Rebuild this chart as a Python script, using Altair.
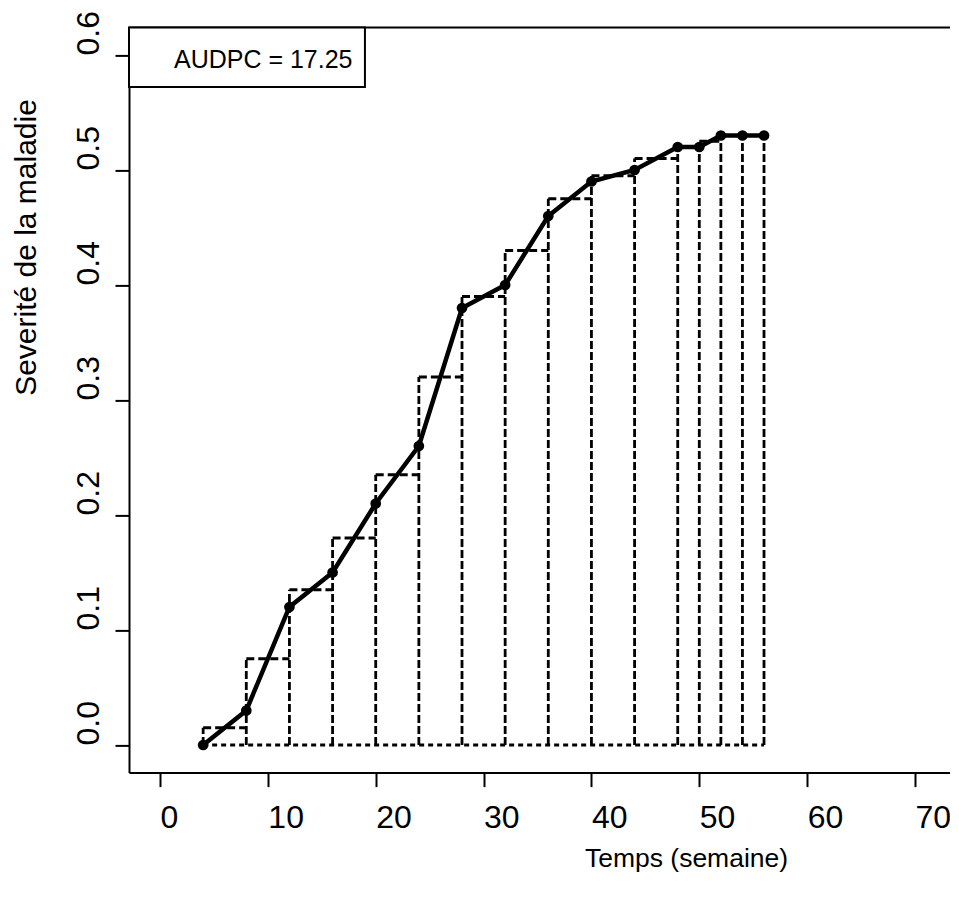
import altair as alt
import pandas as pd

# ---- data ----
temps = [4, 8, 12, 16, 20, 24, 28, 32, 36, 40, 44, 48, 50, 52, 54, 56]
severite = [0.00, 0.03, 0.12, 0.15, 0.21, 0.26, 0.38, 0.40, 0.46, 0.49,
            0.50, 0.52, 0.52, 0.53, 0.53, 0.53]
x_ticks = [0, 10, 20, 30, 40, 50, 60, 70]
y_ticks = [0.0, 0.1, 0.2, 0.3, 0.4, 0.5, 0.6]
legend_text = "AUDPC = 17.25"
x_title = "Temps (semaine)"
y_title = "Severité de la maladie"

# ---- layout ----
W = 821
H = 745.2
PX_PER_X = 10.786
X_MIN = -2.874
X_MAX = X_MIN + W / PX_PER_X
Y_MIN, Y_MAX = -0.024, 0.624
FONT = "Liberation Sans"

pts = pd.DataFrame({"t": temps, "s": severite})
heights = [(a + b) / 2 for a, b in zip(severite[:-1], severite[1:])]
tops = pd.DataFrame({"t0": temps[:-1], "t1": temps[1:], "h": heights})
# vertical edges: each boundary goes up to the taller neighbouring rectangle
vert_h = []
for j in range(len(temps)):
    left = heights[j - 1] if j > 0 else 0.0
    right = heights[j] if j < len(heights) else 0.0
    vert_h.append(max(left, right))
verts = pd.DataFrame({"t": temps, "base": [0.0] * len(temps), "h": vert_h})
bottom = pd.DataFrame({"t0": [temps[0]], "t1": [temps[-1]], "y": [0.0]})

xs = alt.Scale(domain=[X_MIN, X_MAX], nice=False, zero=False)
ys = alt.Scale(domain=[Y_MIN, Y_MAX], nice=False, zero=False)

xaxis = alt.Axis(values=x_ticks, format="d", title=x_title, grid=False,
                 tickSize=14, tickWidth=2, tickColor="black",
                 domainColor="black", domainWidth=2,
                 labelFontSize=32, labelColor="black", labelFont=FONT,
                 labelAlign="left", labelBaseline="alphabetic", labelPadding=41,
                 labelFlush=False, labelOverlap=False,
                 titleFontSize=26.5, titleFontWeight="normal", titleColor="black",
                 titleFont=FONT, titleX=557, titleY=94, titleAlign="center",
                 titleBaseline="alphabetic")
yaxis = alt.Axis(values=y_ticks, format=".1f", title=y_title, grid=False,
                 tickSize=14, tickWidth=2, tickColor="black",
                 domainColor="black", domainWidth=2,
                 labelFontSize=32, labelColor="black", labelFont=FONT,
                 labelAngle=270, labelAlign="left", labelBaseline="alphabetic",
                 labelPadding=17, labelFlush=False, labelOverlap=False,
                 titleFontSize=30, titleFontWeight="normal", titleColor="black",
                 titleFont=FONT, titleAngle=270, titleX=-94, titleY=219.6,
                 titleAlign="center", titleBaseline="alphabetic")


def X(field):
    return alt.X(field, type="quantitative", scale=xs, axis=xaxis)


def Y(field):
    return alt.Y(field, type="quantitative", scale=ys, axis=yaxis)


top_edges = alt.Chart(tops).mark_rule(
    color="black", strokeWidth=2.8, strokeDash=[8, 4]
).encode(x=X("t0"), x2="t1", y=Y("h"))

vert_edges = alt.Chart(verts).mark_rule(
    color="black", strokeWidth=2.8, strokeDash=[8, 3]
).encode(x=X("t"), y=Y("base"), y2="h")

bottom_edge = alt.Chart(bottom).mark_rule(
    color="black", strokeWidth=2.8, strokeDash=[5, 4]
).encode(x=X("t0"), x2="t1", y=Y("y"))

line_layer = alt.Chart(pts).mark_line(color="black", strokeWidth=4.5).encode(
    x=X("t"), y=Y("s"))

point_layer = alt.Chart(pts).mark_circle(color="black", size=115, opacity=1).encode(
    x=X("t"), y=Y("s"))

# plot box top edge
top_df = pd.DataFrame({"x": [X_MIN], "x2": [X_MAX], "y": [Y_MAX]})
top_layer = alt.Chart(top_df).mark_rule(color="black", strokeWidth=2).encode(
    x=X("x"), x2="x2", y=Y("y"))

# legend box
leg_df = pd.DataFrame({"x": [X_MIN], "x2": [19.0], "y": [Y_MAX], "y2": [0.5722]})
leg_box = alt.Chart(leg_df).mark_rect(
    fill="white", stroke="black", strokeWidth=2
).encode(x=X("x"), x2="x2", y=Y("y"), y2="y2")

leg_txt_df = pd.DataFrame({"x": [1.30], "y": [0.5884], "label": [legend_text]})
leg_txt = alt.Chart(leg_txt_df).mark_text(
    align="left", baseline="alphabetic", fontSize=25, font=FONT, color="black"
).encode(x=X("x"), y=Y("y"), text="label:N")

chart = alt.layer(
    bottom_edge, vert_edges, top_edges, line_layer, point_layer,
    top_layer, leg_box, leg_txt
).properties(
    width=W, height=H,
    autosize=alt.AutoSizeParams(type="none"),
    padding={"left": 121, "top": 19.4, "right": 0, "bottom": 105},
    background="white",
).configure_view(strokeWidth=0).configure(font=FONT)

chart.save("out.html", embed_options={"renderer": "svg", "actions": False})
